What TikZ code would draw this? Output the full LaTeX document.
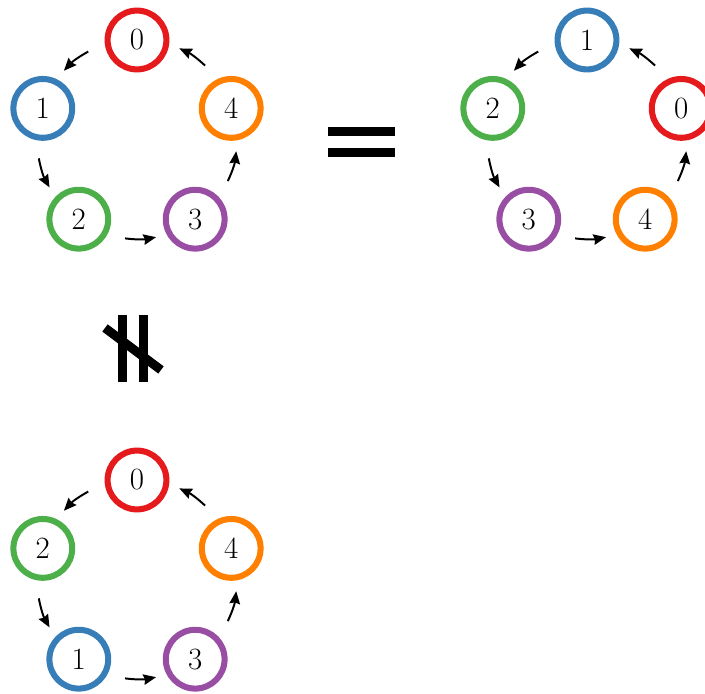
\documentclass[tikz,border=0pt]{standalone}
\usetikzlibrary{arrows.meta}

\definecolor{setred}{HTML}{E41A1C}
\definecolor{setblue}{HTML}{377EB8}
\definecolor{setgreen}{HTML}{4DAF4A}
\definecolor{setpurple}{HTML}{984EA3}
\definecolor{setorange}{HTML}{FF7F00}

\begin{document}
\begin{tikzpicture}[
  >={Stealth[length=9pt, width=7.5pt, inset=1pt]},
  vtx/.style={circle, draw=#1, text=black, line width=4.3pt, minimum size=1.47cm, inner sep=0pt, font=\fontsize{22}{22}\selectfont},
  guide/.style={bend right=36},
  hop/.style={->, line width=1.4pt, bend right=9},
  bar/.style={line width=0.225cm}
]
\useasboundingbox (0,0) rectangle (17.625,17.35);

% Left cycle 0 -> 1 -> 2 -> 3 -> 4
\node[vtx=setred]    (a0) at (3.425, 16.35) {0};
\node[vtx=setblue]   (a1) at (1.07, 14.64)  {1};
\node[vtx=setgreen]  (a2) at (1.97, 11.87)  {2};
\node[vtx=setpurple] (a3) at (4.88, 11.87)  {3};
\node[vtx=setorange] (a4) at (5.78, 14.64)  {4};

\path (a0.center) to[guide] coordinate[pos=.4] (a0s) coordinate[pos=.66] (a0e) (a1.center)
      to[guide] coordinate[pos=.4] (a1s) coordinate[pos=.66] (a1e) (a2.center)
      to[guide] coordinate[pos=.4] (a2s) coordinate[pos=.66] (a2e) (a3.center)
      to[guide] coordinate[pos=.4] (a3s) coordinate[pos=.66] (a3e) (a4.center)
      to[guide] coordinate[pos=.4] (a4s) coordinate[pos=.66] (a4e) (a0.center);
\draw[hop] (a0s) to (a0e);
\draw[hop] (a1s) to (a1e);
\draw[hop] (a2s) to (a2e);
\draw[hop] (a3s) to (a3e);
\draw[hop] (a4s) to (a4e);

% Equal sign
\fill (8.21, 13.95) rectangle (9.875, 14.175);
\fill (8.21, 13.425) rectangle (9.875, 13.65);

% Rotated cycle 1 -> 2 -> 3 -> 4 -> 0
\node[vtx=setblue]   (b1) at (14.675, 16.35) {1};
\node[vtx=setgreen]  (b2) at (12.32, 14.64)  {2};
\node[vtx=setpurple] (b3) at (13.22, 11.87)  {3};
\node[vtx=setorange] (b4) at (16.13, 11.87)  {4};
\node[vtx=setred]    (b0) at (17.03, 14.64)  {0};

\path (b1.center) to[guide] coordinate[pos=.4] (b1s) coordinate[pos=.66] (b1e) (b2.center)
      to[guide] coordinate[pos=.4] (b2s) coordinate[pos=.66] (b2e) (b3.center)
      to[guide] coordinate[pos=.4] (b3s) coordinate[pos=.66] (b3e) (b4.center)
      to[guide] coordinate[pos=.4] (b4s) coordinate[pos=.66] (b4e) (b0.center)
      to[guide] coordinate[pos=.4] (b0s) coordinate[pos=.66] (b0e) (b1.center);
\draw[hop] (b1s) to (b1e);
\draw[hop] (b2s) to (b2e);
\draw[hop] (b3s) to (b3e);
\draw[hop] (b4s) to (b4e);
\draw[hop] (b0s) to (b0e);

% Not-parallel sign
\fill (2.958, 7.8) rectangle (3.175, 9.475);
\fill (3.475, 7.8) rectangle (3.6875, 9.475);
\draw[bar] (2.625, 9.15) -- (4.025, 8.1);

% Swapped cycle 0 -> 2 -> 1 -> 3 -> 4
\node[vtx=setred]    (c0) at (3.425, 5.35) {0};
\node[vtx=setgreen]  (c2) at (1.07, 3.64)  {2};
\node[vtx=setblue]   (c1) at (1.97, 0.87)  {1};
\node[vtx=setpurple] (c3) at (4.88, 0.87)  {3};
\node[vtx=setorange] (c4) at (5.78, 3.64)  {4};

\path (c0.center) to[guide] coordinate[pos=.4] (c0s) coordinate[pos=.66] (c0e) (c2.center)
      to[guide] coordinate[pos=.4] (c2s) coordinate[pos=.66] (c2e) (c1.center)
      to[guide] coordinate[pos=.4] (c1s) coordinate[pos=.66] (c1e) (c3.center)
      to[guide] coordinate[pos=.4] (c3s) coordinate[pos=.66] (c3e) (c4.center)
      to[guide] coordinate[pos=.4] (c4s) coordinate[pos=.66] (c4e) (c0.center);
\draw[hop] (c0s) to (c0e);
\draw[hop] (c2s) to (c2e);
\draw[hop] (c1s) to (c1e);
\draw[hop] (c3s) to (c3e);
\draw[hop] (c4s) to (c4e);

\end{tikzpicture}
\end{document}
